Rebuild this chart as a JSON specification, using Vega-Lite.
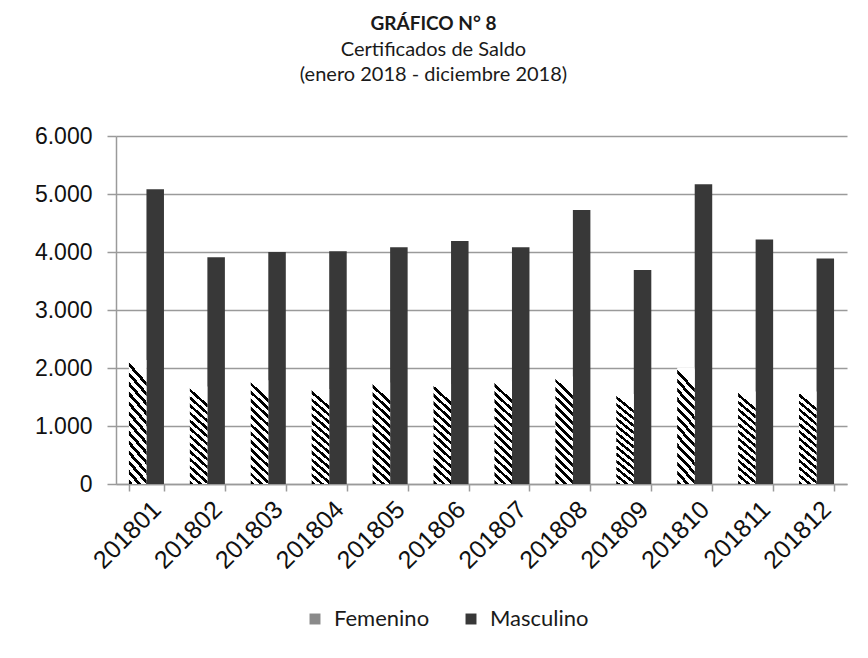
{
  "$schema": "https://vega.github.io/schema/vega-lite/v6.json",
  "width": 731,
  "height": 348,
  "autosize": "none",
  "padding": {"left": 116, "top": 136, "right": 21, "bottom": 174},
  "background": "white",
  "title": {
    "text": "GRÁFICO N° 8",
    "subtitle": ["Certificados de Saldo", "(enero 2018 - diciembre 2018)"],
    "font": "Lato",
    "fontSize": 19,
    "fontWeight": "bold",
    "color": "#1a1a1a",
    "subtitleFont": "Lato",
    "subtitleFontSize": 20,
    "subtitleColor": "#1a1a1a",
    "subtitleLineHeight": 25,
    "subtitlePadding": 6,
    "anchor": "middle",
    "frame": "group",
    "dx": -48,
    "offset": 40
  },
  "data": {
    "values": [
      {"mes": "201801", "sexo": "Femenino", "valor": 2140},
      {"mes": "201801", "sexo": "Masculino", "valor": 5080},
      {"mes": "201802", "sexo": "Femenino", "valor": 1680},
      {"mes": "201802", "sexo": "Masculino", "valor": 3910},
      {"mes": "201803", "sexo": "Femenino", "valor": 1790},
      {"mes": "201803", "sexo": "Masculino", "valor": 4000},
      {"mes": "201804", "sexo": "Femenino", "valor": 1640},
      {"mes": "201804", "sexo": "Masculino", "valor": 4012},
      {"mes": "201805", "sexo": "Femenino", "valor": 1750},
      {"mes": "201805", "sexo": "Masculino", "valor": 4080},
      {"mes": "201806", "sexo": "Femenino", "valor": 1727},
      {"mes": "201806", "sexo": "Masculino", "valor": 4190},
      {"mes": "201807", "sexo": "Femenino", "valor": 1770},
      {"mes": "201807", "sexo": "Masculino", "valor": 4080},
      {"mes": "201808", "sexo": "Femenino", "valor": 1853},
      {"mes": "201808", "sexo": "Masculino", "valor": 4722},
      {"mes": "201809", "sexo": "Femenino", "valor": 1550},
      {"mes": "201809", "sexo": "Masculino", "valor": 3690},
      {"mes": "201810", "sexo": "Femenino", "valor": 2010},
      {"mes": "201810", "sexo": "Masculino", "valor": 5170},
      {"mes": "201811", "sexo": "Femenino", "valor": 1595},
      {"mes": "201811", "sexo": "Masculino", "valor": 4217},
      {"mes": "201812", "sexo": "Femenino", "valor": 1595},
      {"mes": "201812", "sexo": "Masculino", "valor": 3890}
    ]
  },
  "encoding": {
    "x": {
      "field": "mes",
      "type": "nominal",
      "scale": {"paddingInner": 0.425, "paddingOuter": 0.2125},
      "axis": {
        "title": null,
        "tickBand": "extent",
        "domainColor": "#9a9a9a",
        "domainWidth": 1.5,
        "tickColor": "#9a9a9a",
        "tickWidth": 1.5,
        "tickSize": 7,
        "labelAngle": -45,
        "labelAlign": "right",
        "labelBaseline": "middle",
        "labelFont": "Liberation Sans",
        "labelFontSize": 25,
        "labelColor": "#111111",
        "labelOffset": 10,
        "labelPadding": 14,
        "grid": false
      }
    },
    "xOffset": {"field": "sexo", "type": "nominal", "scale": {"domain": ["Femenino", "Masculino"]}},
    "y": {
      "field": "valor",
      "type": "quantitative",
      "scale": {"domain": [0, 6000], "nice": false},
      "axis": {
        "title": null,
        "values": [0, 1000, 2000, 3000, 4000, 5000, 6000],
        "labelExpr": "replace(format(datum.value, ','), ',', '.')",
        "domainColor": "#9a9a9a",
        "domainWidth": 1.5,
        "tickColor": "#9a9a9a",
        "tickWidth": 1.5,
        "tickSize": 9,
        "gridColor": "#9a9a9a",
        "gridWidth": 1.5,
        "grid": true,
        "labelFont": "Liberation Sans",
        "labelFontSize": 23,
        "labelColor": "#111111",
        "labelPadding": 15
      }
    }
  },
  "layer": [
    {
      "transform": [{"filter": "datum.sexo === 'Masculino'"}],
      "mark": {"type": "bar"},
      "encoding": {
        "color": {
          "field": "sexo",
          "type": "nominal",
          "scale": {"domain": ["Femenino", "Masculino"], "range": ["#8a8a8a", "#383838"]},
          "legend": {
            "title": null,
            "orient": "none",
            "direction": "horizontal",
            "legendX": 188,
            "legendY": 472,
            "symbolType": "square",
            "symbolSize": 120,
            "symbolStrokeWidth": 0,
            "labelFont": "Lato",
            "labelFontSize": 22,
            "labelColor": "#1a1a1a",
            "columnPadding": 30,
            "labelOffset": 8
          }
        }
      }
    },
    {
      "transform": [{"filter": "datum.sexo === 'Femenino'"}],
      "mark": {"type": "bar"},
      "encoding": {
        "fill": {
          "value": {
            "gradient": "linear",
            "x1": 0, "y1": 1, "x2": 0.16, "y2": 0,
            "stops": [
              {"offset": 0, "color": "#000000"}, {"offset": 0.0346, "color": "#000000"}, {"offset": 0.0346, "color": "#ffffff"}, {"offset": 0.0769, "color": "#ffffff"},
              {"offset": 0.0769, "color": "#000000"}, {"offset": 0.1115, "color": "#000000"}, {"offset": 0.1115, "color": "#ffffff"}, {"offset": 0.1538, "color": "#ffffff"},
              {"offset": 0.1538, "color": "#000000"}, {"offset": 0.1885, "color": "#000000"}, {"offset": 0.1885, "color": "#ffffff"}, {"offset": 0.2308, "color": "#ffffff"},
              {"offset": 0.2308, "color": "#000000"}, {"offset": 0.2654, "color": "#000000"}, {"offset": 0.2654, "color": "#ffffff"}, {"offset": 0.3077, "color": "#ffffff"},
              {"offset": 0.3077, "color": "#000000"}, {"offset": 0.3423, "color": "#000000"}, {"offset": 0.3423, "color": "#ffffff"}, {"offset": 0.3846, "color": "#ffffff"},
              {"offset": 0.3846, "color": "#000000"}, {"offset": 0.4192, "color": "#000000"}, {"offset": 0.4192, "color": "#ffffff"}, {"offset": 0.4615, "color": "#ffffff"},
              {"offset": 0.4615, "color": "#000000"}, {"offset": 0.4962, "color": "#000000"}, {"offset": 0.4962, "color": "#ffffff"}, {"offset": 0.5385, "color": "#ffffff"},
              {"offset": 0.5385, "color": "#000000"}, {"offset": 0.5731, "color": "#000000"}, {"offset": 0.5731, "color": "#ffffff"}, {"offset": 0.6154, "color": "#ffffff"},
              {"offset": 0.6154, "color": "#000000"}, {"offset": 0.65, "color": "#000000"}, {"offset": 0.65, "color": "#ffffff"}, {"offset": 0.6923, "color": "#ffffff"},
              {"offset": 0.6923, "color": "#000000"}, {"offset": 0.7269, "color": "#000000"}, {"offset": 0.7269, "color": "#ffffff"}, {"offset": 0.7692, "color": "#ffffff"},
              {"offset": 0.7692, "color": "#000000"}, {"offset": 0.8038, "color": "#000000"}, {"offset": 0.8038, "color": "#ffffff"}, {"offset": 0.8462, "color": "#ffffff"},
              {"offset": 0.8462, "color": "#000000"}, {"offset": 0.8808, "color": "#000000"}, {"offset": 0.8808, "color": "#ffffff"}, {"offset": 0.9231, "color": "#ffffff"},
              {"offset": 0.9231, "color": "#000000"}, {"offset": 0.9577, "color": "#000000"}, {"offset": 0.9577, "color": "#ffffff"}, {"offset": 1, "color": "#ffffff"}
            ]
          }
        }
      }
    }
  ],
  "config": {
    "view": {"stroke": null}
  }
}
